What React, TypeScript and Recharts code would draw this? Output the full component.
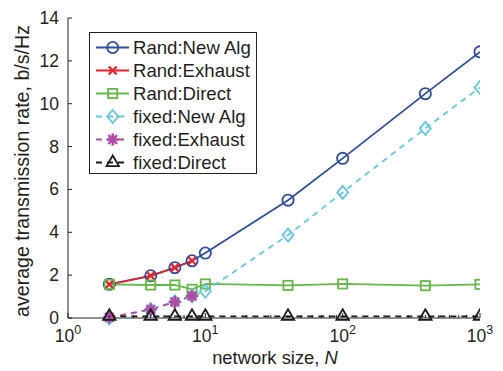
import React from 'react';
import { LineChart, Line, XAxis, YAxis, Legend } from 'recharts';

// ---- data ----
const nAll = [2, 4, 6, 8, 10, 40, 100, 400, 1000];
const nSmall = [2, 4, 6, 8];
const randNewAlg = [1.57, 1.97, 2.35, 2.67, 3.03, 5.5, 7.45, 10.47, 12.42];
const randExhaust = [1.57, 1.97, 2.35, 2.67];
const randDirect = [1.57, 1.54, 1.54, 1.34, 1.59, 1.52, 1.59, 1.51, 1.57];
const fixedNewAlg = [0.0, 0.4, 0.76, 1.03, 1.25, 3.87, 5.86, 8.85, 10.76];
const fixedExhaust = [0.03, 0.4, 0.75, 1.03];
const fixedDirect = [0.08, 0.08, 0.08, 0.08, 0.08, 0.08, 0.08, 0.08, 0.08];
const yTicks = [0, 2, 4, 6, 8, 10, 12, 14];
const xTicks = [1, 2, 3, 4, 5, 6, 7, 8, 9, 10, 20, 30, 40, 50, 60, 70, 80, 90, 100, 200, 300, 400, 500, 600, 700, 800, 900, 1000];
const xDecadeLabels: Record<number, string> = { 1: '0', 10: '1', 100: '2', 1000: '3' };

const toPts = (ns: number[], vs: number[]) => ns.map((n, i) => ({ n, v: vs[i] }));

type MarkerKind = 'circle' | 'x' | 'square' | 'diamond' | 'star' | 'triangle';
const seriesList: { name: string; color: string; dash?: string; marker: MarkerKind; data: { n: number; v: number }[] }[] = [
  { name: 'Rand:New Alg', color: '#2f4d9e', marker: 'circle', data: toPts(nAll, randNewAlg) },
  { name: 'Rand:Exhaust', color: '#e8232b', marker: 'x', data: toPts(nSmall, randExhaust) },
  { name: 'Rand:Direct', color: '#63b846', marker: 'square', data: toPts(nAll, randDirect) },
  { name: 'fixed:New Alg', color: '#62c6dc', dash: '6 5', marker: 'diamond', data: toPts(nAll, fixedNewAlg) },
  { name: 'fixed:Exhaust', color: '#b04aa4', dash: '6 5', marker: 'star', data: toPts(nSmall, fixedExhaust) },
  { name: 'fixed:Direct', color: '#1a1a1a', dash: '6 5', marker: 'triangle', data: toPts(nAll, fixedDirect) },
];

const FONT = '"Liberation Sans", Arial, Helvetica, sans-serif';
const TEXT = '#231f20';

function Marker({ kind, color, cx, cy }: { kind: MarkerKind; color: string; cx: number; cy: number }) {
  switch (kind) {
    case 'circle':
      return <circle cx={cx} cy={cy} r={5.6} fill="none" stroke={color} strokeWidth={1.8} />;
    case 'x':
      return (
        <g stroke={color} strokeWidth={2.2}>
          <line x1={cx - 4} y1={cy - 4} x2={cx + 4} y2={cy + 4} />
          <line x1={cx - 4} y1={cy + 4} x2={cx + 4} y2={cy - 4} />
        </g>
      );
    case 'square':
      return <rect x={cx - 4.6} y={cy - 4.6} width={9.2} height={9.2} fill="none" stroke={color} strokeWidth={1.8} />;
    case 'diamond':
      return (
        <polygon
          points={`${cx},${cy - 6.5} ${cx + 5.5},${cy} ${cx},${cy + 6.5} ${cx - 5.5},${cy}`}
          fill="none"
          stroke={color}
          strokeWidth={1.8}
        />
      );
    case 'star':
      return (
        <g stroke={color} strokeWidth={2.6} strokeLinecap="round">
          <line x1={cx - 5} y1={cy} x2={cx + 5} y2={cy} />
          <line x1={cx} y1={cy - 5} x2={cx} y2={cy + 5} />
          <line x1={cx - 3.6} y1={cy - 3.6} x2={cx + 3.6} y2={cy + 3.6} />
          <line x1={cx - 3.6} y1={cy + 3.6} x2={cx + 3.6} y2={cy - 3.6} />
        </g>
      );
    case 'triangle':
      return (
        <polygon
          points={`${cx},${cy - 7} ${cx + 6.2},${cy + 3.6} ${cx - 6.2},${cy + 3.6}`}
          fill="none"
          stroke={color}
          strokeWidth={1.8}
          strokeLinejoin="miter"
        />
      );
  }
  return null;
}

const XTick = (props: any) => {
  const { x, y, payload } = props;
  const v = payload.value as number;
  const exp = xDecadeLabels[v];
  const isMajor = exp !== undefined;
  return (
    <g>
      <line x1={x} y1={y - (isMajor ? 5 : 3)} x2={x} y2={y} stroke={TEXT} strokeWidth={1} />
      {isMajor && (
        <text x={x} y={y + 24} textAnchor="middle" fontFamily={FONT} fontSize={17.5} fill={TEXT}>
          <tspan>10</tspan>
          <tspan dy={-8} fontSize={12.5}>{exp}</tspan>
        </text>
      )}
    </g>
  );
};

const YTick = (props: any) => {
  const { x, y, payload } = props;
  return (
    <g>
      <line x1={x} y1={y} x2={x + 4} y2={y} stroke={TEXT} strokeWidth={1} />
      <text x={x - 9} y={y + 6} textAnchor="end" fontFamily={FONT} fontSize={17.5} fill={TEXT}>
        {payload.value}
      </text>
    </g>
  );
};

const LegendBox = () => (
  <div
    style={{
      border: `1px solid ${TEXT}`,
      background: '#fff',
      boxSizing: 'border-box',
      width: 168,
      height: 142,
      paddingTop: 3,
    }}
  >
    {seriesList.map((s) => (
      <div key={s.name} style={{ display: 'flex', alignItems: 'center', height: 23 }}>
        <svg width={43} height={23} style={{ display: 'block', flex: 'none' }}>
          <line x1={6} y1={11.5} x2={39} y2={11.5} stroke={s.color} strokeWidth={1.8} strokeDasharray={s.dash} />
          <Marker kind={s.marker} color={s.color} cx={22.7} cy={11.5} />
        </svg>
        <span style={{ fontFamily: FONT, fontSize: 18.6, color: TEXT, lineHeight: '23px', whiteSpace: 'nowrap' }}>{s.name}</span>
      </div>
    ))}
  </div>
);

export default function App() {
  return (
    <div style={{ position: 'absolute', left: 0, top: 0, width: 503, height: 371, background: '#fff' }}>
      <LineChart width={503} height={371} margin={{ top: 18, right: 23, left: 0, bottom: 0 }}>
        <XAxis
          dataKey="n"
          type="number"
          scale="log"
          domain={[1, 1000]}
          allowDataOverflow
          ticks={xTicks}
          interval={0}
          tick={<XTick />}
          tickLine={false}
          tickSize={0}
          tickMargin={0}
          height={53}
          axisLine={{ stroke: TEXT, strokeWidth: 1 }}
          label={{
            content: (p: any) => {
              const vb = p.viewBox;
              return (
                <text x={vb.x + vb.width / 2 + 1} y={vb.y + 46} textAnchor="middle" fontFamily={FONT} fontSize={18.4} fill={TEXT}>
                  network size, <tspan fontStyle="italic">N</tspan>
                </text>
              );
            },
          }}
        />
        <YAxis
          type="number"
          domain={[0, 14]}
          ticks={yTicks}
          interval={0}
          width={68}
          tick={<YTick />}
          tickLine={false}
          tickSize={0}
          tickMargin={0}
          axisLine={{ stroke: TEXT, strokeWidth: 1 }}
          label={{
            content: (p: any) => {
              const vb = p.viewBox;
              const cx = vb.x + 29;
              const cy = vb.y + vb.height / 2 + 3;
              return (
                <text
                  x={cx}
                  y={cy}
                  transform={`rotate(-90, ${cx}, ${cy})`}
                  textAnchor="middle"
                  fontFamily={FONT}
                  fontSize={19.6}
                  fill={TEXT}
                >
                  average transmission rate, b/s/Hz
                </text>
              );
            },
          }}
        />
        <Legend
          layout="horizontal"
          verticalAlign="middle"
          align="center"
          wrapperStyle={{ left: 89, top: 32, width: 168, height: 142 }}
          content={() => <LegendBox />}
        />
        {seriesList.map((s) => (
          <Line
            key={s.name}
            name={s.name}
            data={s.data}
            dataKey="v"
            type="linear"
            stroke={s.color}
            strokeWidth={1.8}
            strokeDasharray={s.dash}
            isAnimationActive={false}
            activeDot={false}
            dot={(p: any) => (
              <g key={`${s.name}-${p.index}`}>
                <Marker kind={s.marker} color={s.color} cx={p.cx} cy={p.cy} />
              </g>
            )}
          />
        ))}
      </LineChart>
    </div>
  );
}
